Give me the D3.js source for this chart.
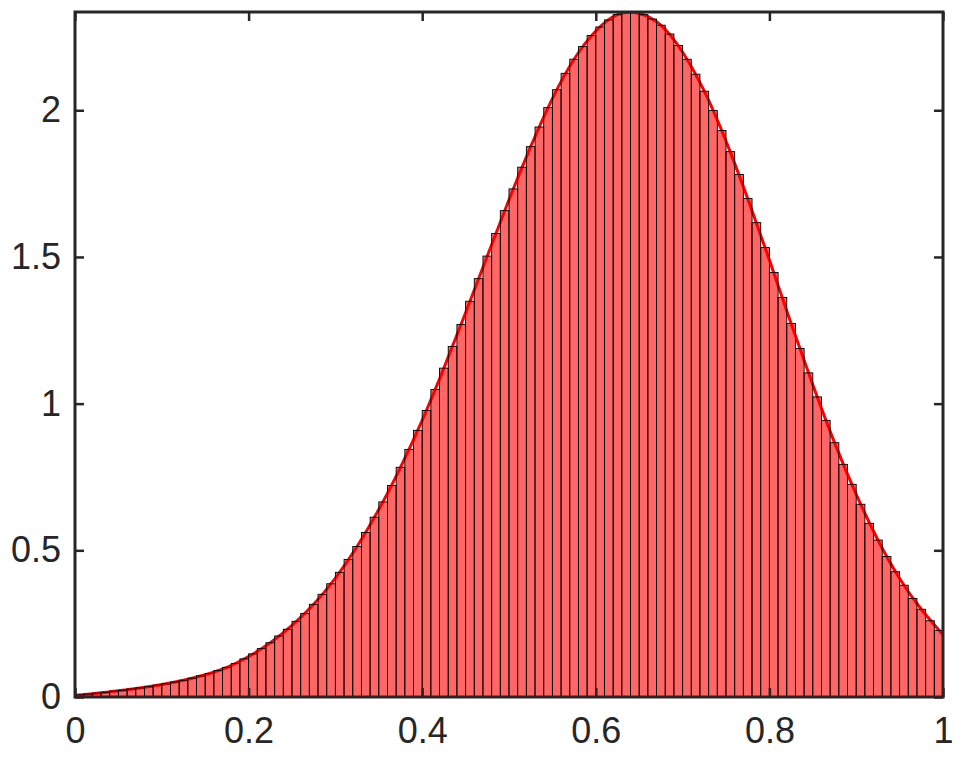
<!DOCTYPE html>
<html>
<head>
<meta charset="utf-8">
<script src="https://cdn.jsdelivr.net/npm/d3@7"></script>
<style>
  html, body { margin: 0; padding: 0; background: #ffffff; }
  svg { display: block; }
</style>
</head>
<body>
<svg id="chart" width="963" height="761"></svg>
<script>
// ---- data ----
const binCount = 100;                 // histogram bins on [0, 1]
const binEdges = d3.range(binCount + 1).map(i => i / binCount);
const binHeights = [
  0.007, 0.010, 0.013, 0.016, 0.020, 0.023, 0.027, 0.031, 0.035, 0.040,
  0.045, 0.051, 0.057, 0.064, 0.072, 0.080, 0.090, 0.101, 0.114, 0.130,
  0.147, 0.165, 0.185, 0.208, 0.231, 0.258, 0.285, 0.316, 0.350, 0.386,
  0.425, 0.469, 0.513, 0.561, 0.613, 0.665, 0.721, 0.783, 0.844, 0.909,
  0.977, 1.048, 1.121, 1.195, 1.270, 1.349, 1.426, 1.503, 1.580, 1.658,
  1.732, 1.806, 1.876, 1.943, 2.009, 2.070, 2.126, 2.174, 2.217, 2.255,
  2.284, 2.308, 2.326, 2.333, 2.333, 2.326, 2.311, 2.290, 2.260, 2.221,
  2.174, 2.123, 2.065, 1.999, 1.931, 1.859, 1.781, 1.699, 1.617, 1.532,
  1.447, 1.362, 1.273, 1.188, 1.105, 1.023, 0.943, 0.867, 0.793, 0.725,
  0.657, 0.592, 0.535, 0.479, 0.427, 0.381, 0.336, 0.299, 0.260, 0.227
];
const curveX = [
  0, 0.025, 0.05, 0.075, 0.10, 0.125, 0.15, 0.175, 0.20, 0.225,
  0.25, 0.275, 0.30, 0.325, 0.35, 0.375, 0.40, 0.425, 0.45, 0.475,
  0.50, 0.525, 0.55, 0.575, 0.60, 0.625, 0.65, 0.675, 0.70, 0.725,
  0.75, 0.775, 0.80, 0.825, 0.85, 0.875, 0.90, 0.925, 0.95, 0.975, 1.00
];
const curveY = [
  0.006, 0.013, 0.0215, 0.031, 0.0425, 0.057, 0.076, 0.101, 0.138, 0.185,
  0.244, 0.316, 0.405, 0.513, 0.639, 0.783, 0.943, 1.121, 1.310, 1.503,
  1.695, 1.876, 2.040, 2.174, 2.270, 2.326, 2.330, 2.290, 2.198, 2.065,
  1.895, 1.699, 1.490, 1.273, 1.064, 0.867, 0.691, 0.535, 0.404, 0.299, 0.212
];
const xTicks = [0, 0.2, 0.4, 0.6, 0.8, 1];
const xTickLabels = ["0", "0.2", "0.4", "0.6", "0.8", "1"];
const yTicks = [0, 0.5, 1, 1.5, 2];
const yTickLabels = ["0", "0.5", "1", "1.5", "2"];
const xDomain = [0, 1];
const yDomain = [0, 2.335];

// ---- layout ----
const margin = { left: 75, right: 20, top: 12, bottom: 64 };
const W = 963, H = 761;
const innerW = W - margin.left - margin.right;
const innerH = H - margin.top - margin.bottom;
const axisColor = "#262626";

const svg = d3.select("#chart");
const x = d3.scaleLinear().domain(xDomain).range([margin.left, margin.left + innerW]);
const y = d3.scaleLinear().domain(yDomain).range([margin.top + innerH, margin.top]);

svg.append("defs").append("clipPath").attr("id", "plotclip")
  .append("rect")
  .attr("x", margin.left).attr("y", margin.top)
  .attr("width", innerW).attr("height", innerH);

const plot = svg.append("g").attr("clip-path", "url(#plotclip)");

// density curve
const curveData = curveX.map((v, i) => [v, curveY[i]]);
const line = d3.line()
  .x(d => x(d[0]))
  .y(d => y(d[1]))
  .curve(d3.curveNatural);
plot.append("path")
  .datum(curveData)
  .attr("d", line)
  .attr("fill", "none")
  .attr("stroke", "#ff0000")
  .attr("stroke-width", 3)
  .attr("stroke-linejoin", "round");

// histogram bars
const bins = binHeights.map((h, i) => ({ x0: binEdges[i], x1: binEdges[i + 1], h }));
plot.append("g").selectAll("rect")
  .data(bins)
  .join("rect")
  .attr("x", d => x(d.x0))
  .attr("width", d => x(d.x1) - x(d.x0))
  .attr("y", d => y(d.h))
  .attr("height", d => y(0) - y(d.h))
  .attr("fill", "#ff0000")
  .attr("fill-opacity", 0.6)
  .attr("stroke", "#000000")
  .attr("stroke-width", 0.9);

// axes (box with inward ticks)
const tickLen = 9;
const fontSpec = "'Liberation Sans', Arial, Helvetica, sans-serif";

const xAxisB = d3.axisBottom(x).tickValues(xTicks)
  .tickFormat((d, i) => xTickLabels[i]).tickSizeInner(-tickLen).tickSizeOuter(0).tickPadding(20);
const xAxisT = d3.axisTop(x).tickValues(xTicks).tickFormat("").tickSizeInner(-tickLen).tickSizeOuter(0);
const yAxisL = d3.axisLeft(y).tickValues(yTicks)
  .tickFormat((d, i) => yTickLabels[i]).tickSizeInner(-tickLen).tickSizeOuter(0).tickPadding(14);
const yAxisR = d3.axisRight(y).tickValues(yTicks).tickFormat("").tickSizeInner(-tickLen).tickSizeOuter(0);

function styleAxis(g) {
  g.select(".domain").remove();
  g.selectAll(".tick line").attr("stroke", axisColor).attr("stroke-width", 2.5);
  g.selectAll(".tick text")
    .attr("fill", axisColor)
    .style("font-family", fontSpec)
    .style("font-size", "36px");
}

svg.append("g").attr("transform", `translate(0,${margin.top + innerH})`).call(xAxisB).call(styleAxis)
  .selectAll(".tick text").attr("dy", "0.71em");
svg.append("g").attr("transform", `translate(0,${margin.top})`).call(xAxisT).call(styleAxis);
svg.append("g").attr("transform", `translate(${margin.left},0)`).call(yAxisL).call(styleAxis);
svg.append("g").attr("transform", `translate(${margin.left + innerW},0)`).call(yAxisR).call(styleAxis);

// box
svg.append("rect")
  .attr("x", margin.left).attr("y", margin.top)
  .attr("width", innerW).attr("height", innerH)
  .attr("fill", "none")
  .attr("stroke", axisColor)
  .attr("stroke-width", 3);
</script>
</body>
</html>
